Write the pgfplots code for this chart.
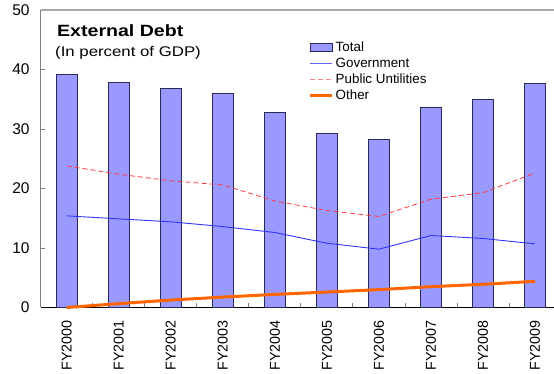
\documentclass[border=0pt]{standalone}
\usepackage{pgfplots}
\pgfplotsset{compat=1.18}
\usepackage{fontspec}
\setmainfont{Liberation Sans}
\newfontfamily\titlefont{Liberation Sans}[FakeStretch=1.2]
\definecolor{barfill}{HTML}{9999FF}
\definecolor{baredge}{HTML}{2A2A55}
\definecolor{govblue}{HTML}{3333FF}
\definecolor{pured}{HTML}{FF3B3B}
\definecolor{othor}{HTML}{FF6600}
\begin{document}
\begin{tikzpicture}
\path[use as bounding box] (0,0) rectangle (554pt,374pt);
\begin{axis}[
  at={(40.7pt,66.5pt)}, anchor=south west,
  scale only axis, width=513.3pt, height=297.5pt,
  xmin=-0.5, xmax=9.365, ymin=0, ymax=50,
  clip=false,
  axis x line*=bottom, axis y line*=left,
  x axis line style={black, line width=1.3pt, -},
  y axis line style={gray, line width=1.2pt, -},
  xtick={0,...,9},
  xticklabels={FY2000,FY2001,FY2002,FY2003,FY2004,FY2005,FY2006,FY2007,FY2008,FY2009},
  major x tick style={draw=none},
  minor xtick={0.5,1.5,...,8.5},
  minor x tick style={gray, line width=0.8pt},
  minor tick length=4pt,
  ytick={0,10,...,50},
  y tick style={gray, line width=0.8pt},
  major tick length=4pt,
  tick align=inside,
  /pgf/number format/assume math mode=true,
  x tick label style={rotate=90, anchor=east, inner sep=0pt, font=\fontsize{14.3}{16}\selectfont},
  xticklabel shift=12.5pt,
  y tick label style={anchor=east, inner sep=0pt, font=\fontsize{15.5}{17}\selectfont},
  yticklabel shift=11pt,
  legend cell align=left,
  legend style={at={(0.5217,0.895)}, anchor=north west, draw=none, fill=none,
    inner sep=0pt, row sep=3.9pt, font=\fontsize{13.4}{16}\selectfont,
    nodes={inner sep=0.5pt},
    /tikz/every odd column/.append style={column sep=1.5pt}},
]
\draw[gray!70, line width=1.2pt] (rel axis cs:0,1) -- (rel axis cs:1,1);
\addplot[ybar, bar width=21pt, fill=barfill, draw=baredge, line width=0.9pt,
  legend image code/.code={\draw[fill=barfill, draw=baredge, line width=0.9pt] (0pt,-4pt) rectangle (22pt,4pt);}]
  coordinates {(0,39.1) (1,37.8) (2,36.8) (3,36.0) (4,32.7) (5,29.3) (6,28.3) (7,33.7) (8,35.0) (9,37.7)};
\addlegendentry{Total}
\addplot[govblue, line width=0.9pt, mark=none,
  legend image code/.code={\draw[govblue!75, line width=0.9pt] (0pt,0pt) -- (22pt,0pt);}]
  coordinates {(0,15.4) (1,14.9) (2,14.4) (3,13.6) (4,12.6) (5,10.8) (6,9.8) (7,12.1) (8,11.6) (9,10.7)};
\addlegendentry{Government}
\addplot[pured, line width=0.8pt, dash pattern=on 5pt off 3pt, mark=none,
  legend image code/.code={\draw[pured!60, line width=0.8pt, dash pattern=on 5pt off 3pt] (0pt,0pt) -- (22pt,0pt);}]
  coordinates {(0,23.8) (1,22.4) (2,21.3) (3,20.6) (4,17.9) (5,16.3) (6,15.3) (7,18.2) (8,19.3) (9,22.6)};
\addlegendentry{Public Untilities}
\addplot[othor, line width=3pt, mark=none,
  legend image code/.code={\draw[othor, line width=3pt] (0pt,0pt) -- (22pt,0pt);}]
  coordinates {(0,0.0) (1,0.65) (2,1.25) (3,1.75) (4,2.2) (5,2.6) (6,3.0) (7,3.5) (8,3.9) (9,4.4)};
\addlegendentry{Other}
\end{axis}
\node[anchor=base west, inner sep=0pt, font=\titlefont\bfseries\fontsize{16.3}{18}\selectfont] at (57pt,337.3pt) {External Debt};
\node[anchor=base west, inner sep=0pt, font=\titlefont\fontsize{14}{16}\selectfont] at (55pt,317.3pt) {(In percent of GDP)};
\end{tikzpicture}
\end{document}
